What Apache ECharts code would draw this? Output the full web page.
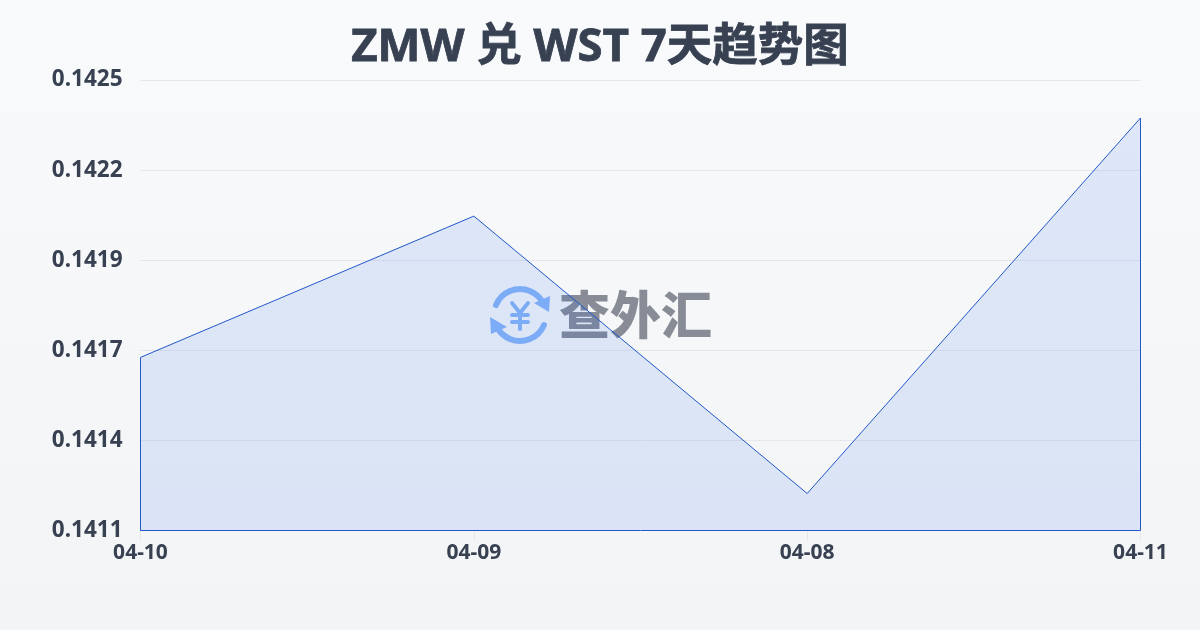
<!DOCTYPE html>
<html>
<head>
<meta charset="utf-8">
<style>html,body{margin:0;padding:0;width:1200px;height:630px;overflow:hidden}#c{width:1200px;height:630px}</style>
<script src="https://cdn.jsdelivr.net/npm/echarts@6/dist/echarts.min.js"></script>
</head>
<body>
<div id="c"></div>
<script>
const titleText = 'ZMW 兑 WST 7天趋势图';
const categories = ['04-10', '04-09', '04-08', '04-11'];
const rates = [0.141638, 0.142077, 0.141215, 0.142382];
const yTicks = [0.1411, 0.14138, 0.14166, 0.14194, 0.14222, 0.1425];
const yMin = 0.1411, yMax = 0.1425;
const font = '"Noto Sans","Noto Sans CJK SC",sans-serif';
const textColor = '#374151', lineColor = '#2257c9', wmBlue = '#8ab6f9';

const outline = [
  [categories[0], rates[0]], [categories[0], yMin],
  [categories[3], yMin], [categories[3], rates[3]]
];
const cx = 520, cy = 315, r = 26;
const wmLine = {fill: null, stroke: wmBlue, lineWidth: 4, lineCap: 'round', lineJoin: 'round'};
const chart = echarts.init(document.getElementById('c'), null, {renderer: 'canvas'});
chart.setOption({
  animation: false,
  backgroundColor: {type: 'linear', x: 0, y: 0, x2: 0, y2: 1, colorStops: [
    {offset: 0, color: '#f8fafc'}, {offset: 1, color: '#f3f4f6'}]},
  title: {text: titleText, left: 'center', top: 20,
    textStyle: {fontFamily: font, fontSize: 45.5, fontWeight: 700, color: textColor, textBorderColor: textColor, textBorderWidth: 0.8}},
  grid: {left: 140.5, right: 59.5, top: 80, bottom: 99.5},
  xAxis: {type: 'category', data: categories, boundaryGap: false,
    axisLine: {show: false},
    axisTick: {show: true, alignWithLabel: true, length: 10, lineStyle: {color: '#e5e7eb'}},
    splitLine: {show: false},
    axisLabel: {show: true, interval: 0, margin: 12, fontFamily: font, fontSize: 21, fontWeight: 700, color: textColor, hideOverlap: false}},
  yAxis: {type: 'value', min: yMin, max: yMax,
    axisLine: {show: false},
    axisTick: {show: false, customValues: yTicks},
    splitLine: {show: true, lineStyle: {color: '#e5e7eb', width: 1}},
    axisLabel: {customValues: yTicks, margin: 18, fontFamily: font, fontSize: 22.5, fontWeight: 700, color: textColor,
      formatter: v => v.toFixed(4)}},
  series: [
    {type: 'line', data: rates, symbol: 'none', smooth: false, clip: false, z: 3,
      lineStyle: {color: lineColor, width: 1},
      areaStyle: {color: 'rgba(37,99,235,0.17)', origin: 'start'}},
    {type: 'line', data: outline, symbol: 'none', clip: false, z: 3, silent: true,
      lineStyle: {color: lineColor, width: 1}}
  ],
  graphic: {elements: [
    {type: 'arc', z: 1, shape: {cx, cy, r, startAngle: -2.75, endAngle: -0.55}, style: {fill: null, stroke: wmBlue, lineWidth: 6, lineCap: 'round'}},
    {type: 'arc', z: 1, shape: {cx, cy, r, startAngle: 0.4, endAngle: 2.6}, style: {fill: null, stroke: wmBlue, lineWidth: 6, lineCap: 'round'}},
    {type: 'polygon', z: 1, shape: {points: [[550, 296], [549, 312], [534, 303]]}, style: {fill: wmBlue}},
    {type: 'polygon', z: 1, shape: {points: [[490, 317], [491, 334], [507, 327]]}, style: {fill: wmBlue}},
    {type: 'polyline', z: 1, shape: {points: [[512, 303], [520, 313], [528, 303]]}, style: wmLine},
    {type: 'line', z: 1, shape: {x1: 520, y1: 313, x2: 520, y2: 329}, style: wmLine},
    {type: 'line', z: 1, shape: {x1: 512, y1: 315, x2: 528, y2: 315}, style: wmLine},
    {type: 'line', z: 1, shape: {x1: 512, y1: 322, x2: 528, y2: 322}, style: wmLine},
    {type: 'text', z: 1, x: 559, y: 315, style: {text: '查外汇', x: 0, y: 0, align: 'left', verticalAlign: 'middle', font: '900 51px "Noto Sans CJK SC",sans-serif', fill: '#878c96'}}
  ]}
});
</script>
</body>
</html>
